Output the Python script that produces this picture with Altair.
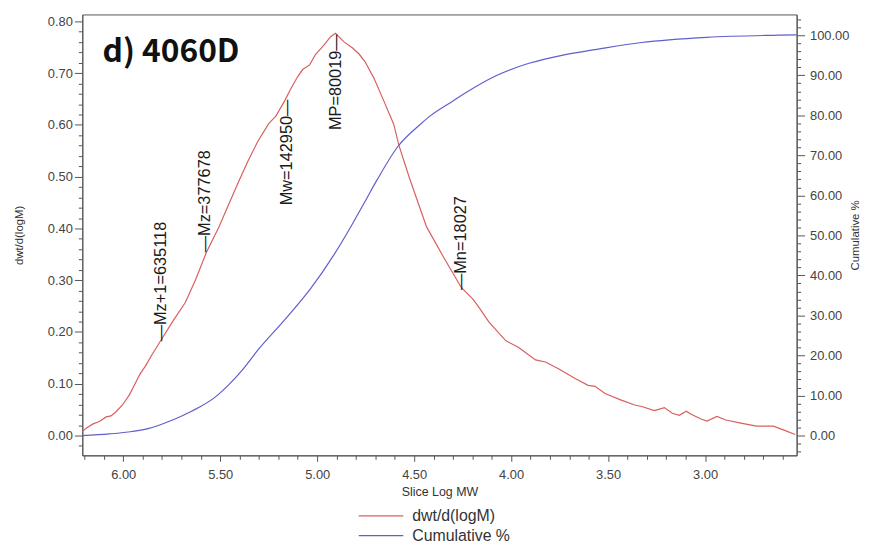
import math
import altair as alt
import pandas as pd

# ---- data ----
# dwt/d(logM) curve (left axis)
dwt_logmw = [6.211, 6.191, 6.158, 6.123, 6.088, 6.063, 6.037, 6.004, 5.969, 5.935,
             5.913, 5.884, 5.852, 5.807, 5.744, 5.680, 5.627, 5.571, 5.509, 5.458,
             5.407, 5.356, 5.305, 5.249, 5.213, 5.167, 5.136, 5.101, 5.075, 5.039,
             5.009, 4.963, 4.932, 4.906, 4.860, 4.819, 4.784, 4.753, 4.707, 4.656,
             4.605, 4.579, 4.523, 4.436, 4.349, 4.257, 4.196, 4.165, 4.114, 4.027,
             3.961, 3.874, 3.823, 3.756, 3.670, 3.603, 3.567, 3.516, 3.429, 3.363,
             3.327, 3.261, 3.210, 3.169, 3.133, 3.097, 3.072, 3.021, 2.990, 2.939,
             2.893, 2.816, 2.735, 2.648, 2.597, 2.535]
dwt_values = [0.008, 0.014, 0.022, 0.027, 0.036, 0.038, 0.046, 0.059, 0.078, 0.103,
              0.119, 0.135, 0.156, 0.183, 0.221, 0.257, 0.301, 0.354, 0.401, 0.445,
              0.489, 0.531, 0.569, 0.603, 0.617, 0.647, 0.670, 0.693, 0.707, 0.716,
              0.736, 0.755, 0.770, 0.777, 0.760, 0.749, 0.737, 0.722, 0.690, 0.646,
              0.601, 0.561, 0.496, 0.403, 0.345, 0.286, 0.263, 0.247, 0.219, 0.183,
              0.170, 0.146, 0.142, 0.129, 0.110, 0.097, 0.095, 0.081, 0.068, 0.059,
              0.056, 0.048, 0.054, 0.043, 0.039, 0.047, 0.041, 0.032, 0.028, 0.037,
              0.030, 0.024, 0.018, 0.018, 0.011, 0.002]

# Cumulative % curve (right axis)
cum_logmw = [6.211, 6.072, 5.954, 5.867, 5.782, 5.698, 5.611, 5.526, 5.458, 5.382,
             5.305, 5.168, 5.034, 4.913, 4.825, 4.744, 4.692, 4.581, 4.472, 4.419,
             4.300, 4.249, 4.078, 3.908, 3.738, 3.567, 3.329, 2.990, 2.647, 2.528]
cum_values = [0.0, 0.4, 1.0, 1.8, 3.2, 4.9, 7.0, 9.6, 12.6, 16.6,
              21.4, 28.9, 36.7, 45.2, 52.3, 59.3, 63.8, 72.4, 77.6, 79.8,
              83.6, 85.2, 89.9, 93.0, 95.0, 96.4, 98.2, 99.5, 100.0, 100.1]

# molecular-weight averages marked on the curve
mw_names = ["Mz+1", "Mz", "Mw", "MP", "Mn"]
mw_numbers = [635118, 377678, 142950, 80019, 18027]
mw_curve_y = [0.182, 0.354, 0.649, 0.775, 0.281]
mw_text_below = [False, False, True, True, False]

series_names = ["dwt/d(logM)", "Cumulative %"]
series_colors = ["#d95f5f", "#5f5fcc"]

panel_label = ["d) 4060D"]
panel_label_x = [6.107]
panel_label_y = [0.722]

# tick values (major + minor)
x_ticks = [round(2.6 + i * 0.1, 1) for i in range(37)]
yl_ticks = [round(-0.02 + i * 0.02, 2) for i in range(42)]
yr_ticks = [-4 + 2 * i for i in range(55)]

# ---- tables ----
dwt_df = pd.DataFrame({"logmw": dwt_logmw, "y": dwt_values, "series": series_names[0]})
cum_df = pd.DataFrame({"logmw": cum_logmw, "y": cum_values, "series": series_names[1]})
ann_df = pd.DataFrame({
    "logmw": [round(math.log10(n), 3) for n in mw_numbers],
    "y": mw_curve_y,
    "label": [(f"{nm}={n}\u2014" if below else f"\u2014{nm}={n}")
              for nm, n, below in zip(mw_names, mw_numbers, mw_text_below)],
    "below": mw_text_below,
})
title_df = pd.DataFrame({"logmw": panel_label_x, "y": panel_label_y, "label": panel_label})

AX = "#555555"
LBL = "#444444"
FONT = "Liberation Sans"

x_scale = alt.Scale(domain=[2.528, 6.211], reverse=True, nice=False, zero=False)
yl_scale = alt.Scale(domain=[-0.0383, 0.8134], nice=False, zero=False)
yr_scale = alt.Scale(domain=[-4.95, 105.2], nice=False, zero=False)

x_axis = alt.Axis(
    values=x_ticks,
    labelExpr="abs(round(datum.value*10)) % 5 == 0 ? format(datum.value, '.2f') : ''",
    tickSize={"condition": {"test": "abs(round(datum.value*10)) % 5 == 0", "value": 6}, "value": 4},
    labelPadding=7, labelOverlap=False, labelFlush=False, grid=False,
    title="Slice Log MW", titleFontSize=12.5, titlePadding=5,
)
yl_axis = alt.Axis(
    orient="left", values=yl_ticks,
    labelExpr="abs(round(datum.value*100)) % 10 == 0 ? format(datum.value, '.2f') : ''",
    tickSize={"condition": {"test": "abs(round(datum.value*100)) % 10 == 0", "value": 8}, "value": 4},
    labelPadding=2, labelOverlap=False, labelFlush=False, grid=False,
    title="dwt/d(logM)", titleFontSize=11.5, titlePadding=23,
)
yr_axis = alt.Axis(
    orient="right", values=yr_ticks,
    labelExpr="abs(round(datum.value)) % 10 == 0 ? format(datum.value, '.2f') : ''",
    tickSize={"condition": {"test": "abs(round(datum.value)) % 10 == 0", "value": 8}, "value": 4},
    labelPadding=5, labelOverlap=False, labelFlush=False, grid=False,
    title="Cumulative %", titleFontSize=11.5, titlePadding=12, titleAngle=270,
)

color = alt.Color(
    "series:N",
    scale=alt.Scale(domain=series_names, range=series_colors),
    legend=alt.Legend(
        title=None, orient="none", legendX=278, legendY=496, direction="vertical",
        symbolType="stroke", symbolSize=2025, symbolStrokeWidth=1.3,
        labelFont=FONT, labelFontSize=16, labelColor="#333333", labelOffset=8,
        clipHeight=20, rowPadding=0, padding=0,
    ),
)

X = alt.X("logmw:Q", scale=x_scale, axis=x_axis)
YL = alt.Y("y:Q", scale=yl_scale, axis=yl_axis)

red = alt.Chart(dwt_df).mark_line(strokeWidth=1.2).encode(x=X, y=YL, color=color)

ann_up = alt.Chart(ann_df).transform_filter("!datum.below").mark_text(
    angle=270, align="left", baseline="middle", font=FONT, fontSize=16.5, color="#1a1a1a"
).encode(x=X, y=YL, text="label:N")

ann_down = alt.Chart(ann_df).transform_filter("datum.below").mark_text(
    angle=270, align="right", baseline="middle", font=FONT, fontSize=16.5, color="#1a1a1a"
).encode(x=X, y=YL, text="label:N")

panel = alt.Chart(title_df).mark_text(
    align="left", baseline="alphabetic", font="Noto Sans CJK KR", fontWeight="bold",
    fontSize=32, color="#111111"
).encode(x=X, y=YL, text="label:N")

left_group = alt.layer(red, ann_up, ann_down, panel)

blue = alt.Chart(cum_df).mark_line(strokeWidth=1.2, interpolate="monotone").encode(
    x=X,
    y=alt.Y("y:Q", scale=yr_scale, axis=yr_axis),
    color=color,
)

chart = alt.layer(left_group, blue).resolve_scale(y="independent").properties(
    width=721, height=445,
    autosize=alt.AutoSizeParams(type="none"),
    padding={"left": 75, "top": 4, "right": 68, "bottom": 92},
).configure_view(
    stroke=AX, strokeWidth=1
).configure_axis(
    domainColor=AX, tickColor=AX, labelColor=LBL, labelFont=FONT, labelFontSize=13,
    titleFont=FONT, titleFontWeight="normal", titleColor="#333333",
)

chart.save("out.html", embed_options={"renderer": "svg", "actions": False})
